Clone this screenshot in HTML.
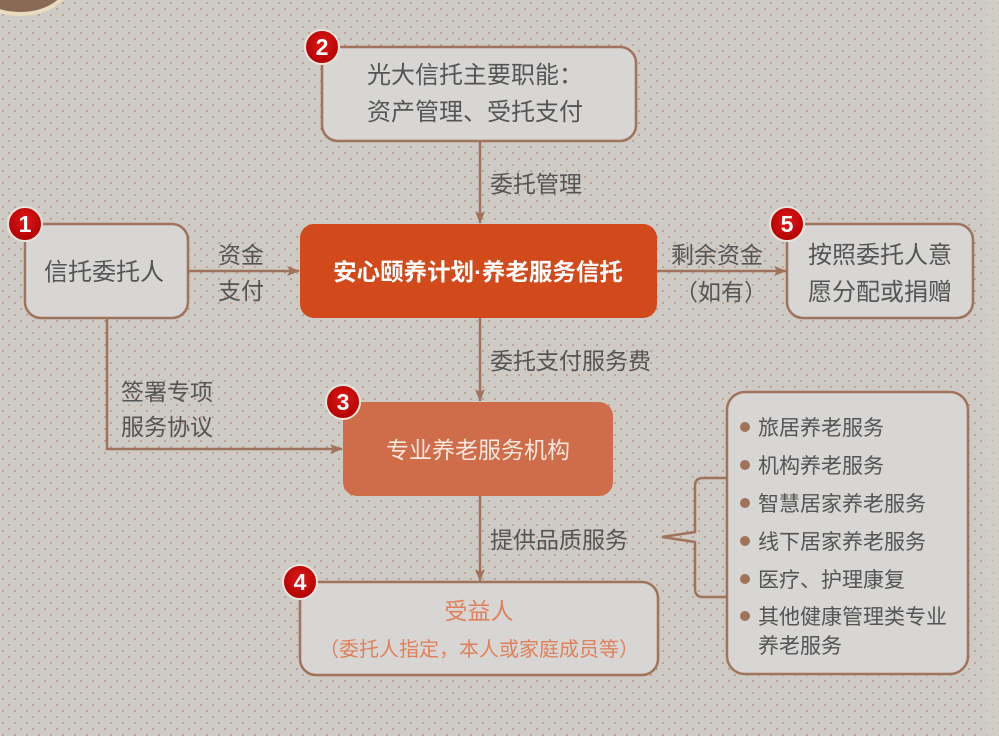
<!DOCTYPE html>
<html><head><meta charset="utf-8"><style>
html,body{margin:0;padding:0;}
body{width:999px;height:736px;overflow:hidden;background:#cdcbc6;}
svg{display:block;font-family:"Liberation Sans","Noto Sans CJK SC",sans-serif;}
.t{fill:#545454;font-size:24px;}
.l{fill:#545454;font-size:23px;}
.s{fill:#545454;font-size:21px;}
</style></head><body>
<svg width="999" height="736" viewBox="0 0 999 736" xmlns="http://www.w3.org/2000/svg">
<defs>
<pattern id="dots" width="12" height="12" patternUnits="userSpaceOnUse">
<rect width="12" height="12" fill="#cecbc6"/>
<circle cx="3" cy="3" r="1" fill="#b89686"/>
<circle cx="9" cy="9" r="1" fill="#b89686"/>
</pattern>
<marker id="ar" markerWidth="13" markerHeight="12" refX="12" refY="6" orient="auto" markerUnits="userSpaceOnUse">
<path d="M0,1 L13,6 L0,11 L3,6 Z" fill="#a0735a"/>
</marker>
<radialGradient id="rg" cx="0.5" cy="0.4" r="0.6"><stop offset="0" stop-color="#e01818"/><stop offset="1" stop-color="#b00000"/></radialGradient>
</defs>
<rect width="999" height="736" fill="url(#dots)"/>
<rect x="985" y="0" width="14" height="736" fill="#d4d0c8" opacity="0.6"/>
<ellipse cx="20" cy="-20" rx="50" ry="34" fill="#8a6a55" stroke="#e8dcc0" stroke-width="4"/>

<g stroke="#a0735a" stroke-width="2.5" fill="none">
<line x1="480" y1="141" x2="480" y2="223" marker-end="url(#ar)"/>
<line x1="188" y1="271" x2="299" y2="271" marker-end="url(#ar)"/>
<line x1="657" y1="271" x2="786" y2="271" marker-end="url(#ar)"/>
<line x1="480" y1="318" x2="480" y2="401" marker-end="url(#ar)"/>
<line x1="480" y1="496" x2="480" y2="581" marker-end="url(#ar)"/>
<polyline points="107,318 107,449 342,449" marker-end="url(#ar)"/>
<path d="M727,478 L703,478 Q695,478 695,486 L695,532 L662,537 L695,542 L695,589 Q695,597 703,597 L727,597"/>
</g>

<rect x="322" y="47" width="314" height="94" rx="16" fill="#d7d6d4" stroke="#a0735a" stroke-width="2.5"/>
<rect x="25" y="224" width="163" height="94" rx="16" fill="#d7d6d4" stroke="#a0735a" stroke-width="2.5"/>
<rect x="300" y="224" width="357" height="94" rx="14" fill="#d24a1c"/>
<rect x="787" y="224" width="186" height="94" rx="16" fill="#d7d6d4" stroke="#a0735a" stroke-width="2.5"/>
<rect x="343" y="402" width="270" height="94" rx="14" fill="#cf6c4a"/>
<rect x="300" y="582" width="358" height="93" rx="16" fill="#d7d6d4" stroke="#a0735a" stroke-width="2.5"/>
<rect x="727" y="392" width="241" height="282" rx="18" fill="#d7d6d4" stroke="#a0735a" stroke-width="2.5"/>

<text class="t" x="367" y="83">光大信托主要职能：</text>
<text class="t" x="367" y="120">资产管理、受托支付</text>
<text class="t" x="104" y="280" text-anchor="middle">信托委托人</text>
<text x="478" y="280" text-anchor="middle" style="fill:#fff;font-size:23.5px;font-weight:bold">安心颐养计划·养老服务信托</text>
<text class="t" x="880" y="263" text-anchor="middle">按照委托人意</text>
<text class="t" x="880" y="300" text-anchor="middle">愿分配或捐赠</text>
<text x="478" y="458" text-anchor="middle" style="fill:#f5e8e0;font-size:23px">专业养老服务机构</text>
<text x="479" y="619" text-anchor="middle" style="fill:#e0805a;font-size:23px">受益人</text>
<text x="479" y="656" text-anchor="middle" style="fill:#e0805a;font-size:20px">（委托人指定，本人或家庭成员等）</text>

<text class="l" x="490" y="192">委托管理</text>
<text class="l" x="218" y="263">资金</text>
<text class="l" x="218" y="299">支付</text>
<text class="l" x="671" y="263">剩余资金</text>
<text class="l" x="675" y="300">（如有）</text>
<text class="l" x="490" y="369">委托支付服务费</text>
<text class="l" x="121" y="400">签署专项</text>
<text class="l" x="121" y="435">服务协议</text>
<text class="l" x="490" y="548">提供品质服务</text>

<g fill="#a0735a">
<circle cx="745" cy="427" r="5"/><circle cx="745" cy="465" r="5"/><circle cx="745" cy="503" r="5"/>
<circle cx="745" cy="541" r="5"/><circle cx="745" cy="579" r="5"/><circle cx="745" cy="616" r="5"/>
</g>
<text class="s" x="758" y="435">旅居养老服务</text>
<text class="s" x="758" y="473">机构养老服务</text>
<text class="s" x="758" y="511">智慧居家养老服务</text>
<text class="s" x="758" y="549">线下居家养老服务</text>
<text class="s" x="758" y="587">医疗、护理康复</text>
<text class="s" x="758" y="624">其他健康管理类专业</text>
<text class="s" x="758" y="653">养老服务</text>

<g stroke="#e8e4de" stroke-width="2" fill="url(#rg)">
<circle cx="322" cy="47" r="17"/><circle cx="25" cy="224" r="17"/><circle cx="787" cy="224" r="17"/>
<circle cx="343" cy="402" r="17"/><circle cx="300" cy="582" r="17"/>
</g>
<g style="fill:#fff;font-size:23px;font-weight:bold;font-family:'Liberation Sans',sans-serif" text-anchor="middle">
<text x="322" y="55">2</text><text x="25" y="232">1</text><text x="787" y="232">5</text>
<text x="343" y="410">3</text><text x="300" y="590">4</text>
</g>
</svg>
</body></html>
